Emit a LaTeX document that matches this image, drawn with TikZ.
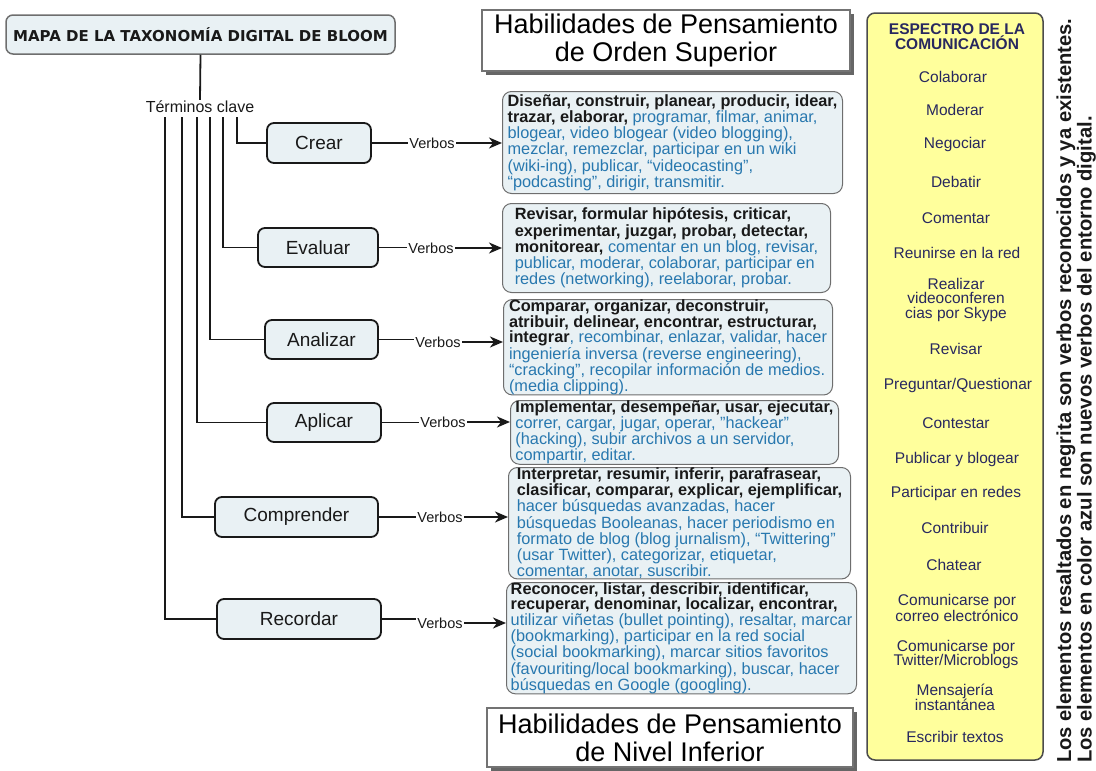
\documentclass[tikz,border=0pt]{standalone}
\usepackage{fontspec}
\setmainfont{Liberation Sans}
\newfontfamily\titlefont{DejaVu Sans}
\usetikzlibrary{arrows.meta,shadows}
\definecolor{boxfill}{RGB}{233,241,244}
\definecolor{boxline}{RGB}{110,110,110}
\definecolor{blu}{RGB}{40,120,175}
\definecolor{navy}{RGB}{40,40,95}
\definecolor{yel}{RGB}{255,255,156}
\definecolor{ink}{RGB}{25,25,25}
\newcommand{\myfs}[2]{\fontsize{#1}{#2}\selectfont}
\newcommand{\vbold}[1]{{\bfseries\color{ink}#1}}
\begin{document}
\begin{tikzpicture}[x=1pt,y=-1pt,
  concept/.style={draw=ink, line width=1.8pt, rounded corners=7pt, fill=boxfill, inner sep=0pt, font=\myfs{19}{21}, text=ink},
  verbbox/.style={draw=boxline, line width=1pt, rounded corners=9pt, fill=boxfill, inner sep=0pt, align=left, font=\myfs{16.3}{15}, text=blu, anchor=north west},
  header/.style={draw=black!55, line width=1.2pt, fill=white, inner sep=0pt, font=\myfs{27}{28}, align=center, text=black,
     drop shadow={shadow xshift=4pt, shadow yshift=-4pt, fill=black!80, opacity=0.75}},
  link/.style={font=\myfs{14.5}{16}, text=ink, inner sep=1.5pt},
  conn/.style={draw=ink, line width=1.8pt},
  arr/.style={conn, -{Stealth[length=13pt,width=11pt,inset=4pt]}},
  item/.style={font=\myfs{15.5}{14.5}, text=navy, align=center, inner sep=0pt}]
\useasboundingbox (0,0) rectangle (1096,771);

% title
\node[draw=boxline, line width=1.5pt, rounded corners=7pt, fill=boxfill, minimum width=389pt, minimum height=39pt, inner sep=0pt,
  font=\titlefont\bfseries\myfs{15}{16}, text=ink] (title) at (200.5,34.5) {MAPA DE LA TAXONOMÍA DIGITAL DE BLOOM};
\node[font=\myfs{16}{18}, text=ink, inner sep=1pt] (terms) at (200,107) {Términos clave};
\draw[conn] (title.south) -- (terms.north);

% concept boxes
\node[concept, minimum width=104pt, minimum height=40pt] (crear) at (319,143) {Crear};
\node[concept, minimum width=120pt, minimum height=39pt] (evaluar) at (318,247.5) {Evaluar};
\node[concept, minimum width=113pt, minimum height=39pt] (analizar) at (321.5,339.5) {Analizar};
\node[concept, minimum width=114pt, minimum height=39pt] (aplicar) at (324,422.5) {Aplicar};
\node[concept, minimum width=163pt, minimum height=40pt] (comprender) at (296.5,517) {Comprender};
\node[concept, minimum width=164pt, minimum height=40pt] (recordar) at (299,619) {Recordar};

% tree connectors
\coordinate (k1) at (237,117);
\coordinate (k2) at (223,117);
\coordinate (k3) at (210,117);
\coordinate (k4) at (197,117);
\coordinate (k5) at (182,117);
\coordinate (k6) at (165,117);
\draw[conn] (k1) |- (crear.west);
\draw[conn] (k2) |- (evaluar.west);
\draw[conn] (k3) |- (analizar.west);
\draw[conn] (k4) |- (aplicar.west);
\draw[conn] (k5) |- (comprender.west);
\draw[conn] (k6) |- (recordar.west);

% verb boxes
\node[verbbox, minimum width=340pt, minimum height=102pt] (crearT) at (502,91) {%
\vbold{Diseñar, construir, planear, producir, idear,}\\
\vbold{trazar, elaborar,} programar, filmar, animar,\\
blogear, video blogear (video blogging),\\
mezclar, remezclar, participar en un wiki\\
(wiki-ing), publicar, “videocasting”,\\
“podcasting”, dirigir, transmitir.};
\node[verbbox, minimum width=328pt, minimum height=89pt] (evaluarT) at (502,203) {%
\vbold{Revisar, formular hipótesis, criticar,}\\
\vbold{experimentar, juzgar, probar, detectar,}\\
\vbold{monitorear,} comentar en un blog, revisar,\\
publicar, moderar, colaborar, participar en\\
redes (networking), reelaborar, probar.};
\node[verbbox, minimum width=329pt, minimum height=94pt] (analizarT) at (503,299) {%
\vbold{Comparar, organizar, deconstruir,}\\
\vbold{atribuir, delinear, encontrar, estructurar,}\\
\vbold{integrar}, recombinar, enlazar, validar, hacer\\
ingeniería inversa (reverse engineering),\\
“cracking”, recopilar información de medios.\\
(media clipping).};
\node[verbbox, minimum width=328pt, minimum height=62pt] (aplicarT) at (510,400) {%
\vbold{Implementar, desempeñar, usar, ejecutar,}\\
correr, cargar, jugar, operar, "hackear"\\
(hacking), subir archivos a un servidor,\\
compartir, editar.};
\node[verbbox, minimum width=342pt, minimum height=108pt] (comprenderT) at (508,467) {%
\vbold{Interpretar, resumir, inferir, parafrasear,}\\
\vbold{clasificar, comparar, explicar, ejemplificar,}\\
hacer búsquedas avanzadas, hacer\\
búsquedas Booleanas, hacer periodismo en\\
formato de blog (blog jurnalism), “Twittering”\\
(usar Twitter), categorizar, etiquetar,\\
comentar, anotar, suscribir.};
\node[verbbox, minimum width=350pt, minimum height=110pt] (recordarT) at (506,582) {%
\vbold{Reconocer, listar, describir, identificar,}\\
\vbold{recuperar, denominar, localizar, encontrar,}\\
utilizar viñetas (bullet pointing), resaltar, marcar\\
(bookmarking), participar en la red social\\
(social bookmarking), marcar sitios favoritos\\
(favouriting/local bookmarking), buscar, hacer\\
búsquedas en Google (googling).};

% Verbos links
\node[link] (v1) at (432,143) {Verbos};
\node[link] (v2) at (431,248) {Verbos};
\node[link] (v3) at (438,342) {Verbos};
\node[link] (v4) at (443,422) {Verbos};
\node[link] (v5) at (440,517) {Verbos};
\node[link] (v6) at (440,623) {Verbos};
\draw[conn] (crear.east) -- (crear.east -| v1.west);
\draw[conn] (evaluar.east) -- (evaluar.east -| v2.west);
\draw[conn] (analizar.east) -- (analizar.east -| v3.west);
\draw[conn] (aplicar.east) -- (aplicar.east -| v4.west);
\draw[conn] (comprender.east) -- (comprender.east -| v5.west);
\draw[conn] (recordar.east) -- (recordar.east -| v6.west);
\draw[arr] (v1.east) -- (v1.east -| crearT.west);
\draw[arr] (v2.east) -- (v2.east -| evaluarT.west);
\draw[arr] (v3.east) -- (v3.east -| analizarT.west);
\draw[arr] (v4.east) -- (v4.east -| aplicarT.west);
\draw[arr] (v5.east) -- (v5.east -| comprenderT.west);
\draw[arr] (v6.east) -- (v6.east -| recordarT.west);

% headers
\node[header, minimum width=368pt, minimum height=61pt] (hsup) at (666,40.5) {Habilidades de Pensamiento\\de Orden Superior};
\node[header, minimum width=366pt, minimum height=59pt] (hinf) at (670,737.5) {Habilidades de Pensamiento\\de Nivel Inferior};

% yellow panel
\node[draw=black!70, line width=1.5pt, rounded corners=8pt, fill=yel, minimum width=176pt, minimum height=747pt, inner sep=0pt] (panel) at (955,386.5) {};
\node[item, font=\bfseries\myfs{15.5}{13.5}] (ptitle) at (957,36.5) {ESPECTRO DE LA\\COMUNICACIÓN};
\node[item] (i1) at (953,77) {Colaborar};
\node[item] (i2) at (955,110) {Moderar};
\node[item] (i3) at (955,144) {Negociar};
\node[item] (i4) at (956,182) {Debatir};
\node[item] (i5) at (956,218) {Comentar};
\node[item] (i6) at (957,253) {Reunirse en la red};
\node[item] (i7) at (956,299.5) {Realizar\\videoconferen\\cias por Skype};
\node[item] (i8) at (956,349) {Revisar};
\node[item] (i9) at (958,385) {Preguntar/Questionar};
\node[item] (i10) at (956,423) {Contestar};
\node[item] (i11) at (957,459) {Publicar y blogear};
\node[item] (i12) at (956,493) {Participar en redes};
\node[item] (i13) at (955,528) {Contribuir};
\node[item] (i14) at (954,565) {Chatear};
\node[item] (i15) at (957,608) {Comunicarse por\\correo electrónico};
\node[item] (i16) at (956,654.5) {Comunicarse por\\Twitter/Microblogs};
\node[item] (i17) at (955,697.5) {Mensajería\\instantánea};
\node[item] (i18) at (955,737) {Escribir textos};

% rotated notes
\node[rotate=90, anchor=base west, font=\bfseries\myfs{20.2}{22}, text=ink, inner sep=0pt] (note1) at (1071,763)
  {Los elementos resaltados en negrita son verbos reconocidos y ya existentes.};
\node[rotate=90, anchor=base west, font=\bfseries\myfs{20.2}{22}, text=ink, inner sep=0pt] (note2) at (1091.5,763)
  {Los elementos en color azul son nuevos verbos del entorno digital.};
\end{tikzpicture}
\end{document}
